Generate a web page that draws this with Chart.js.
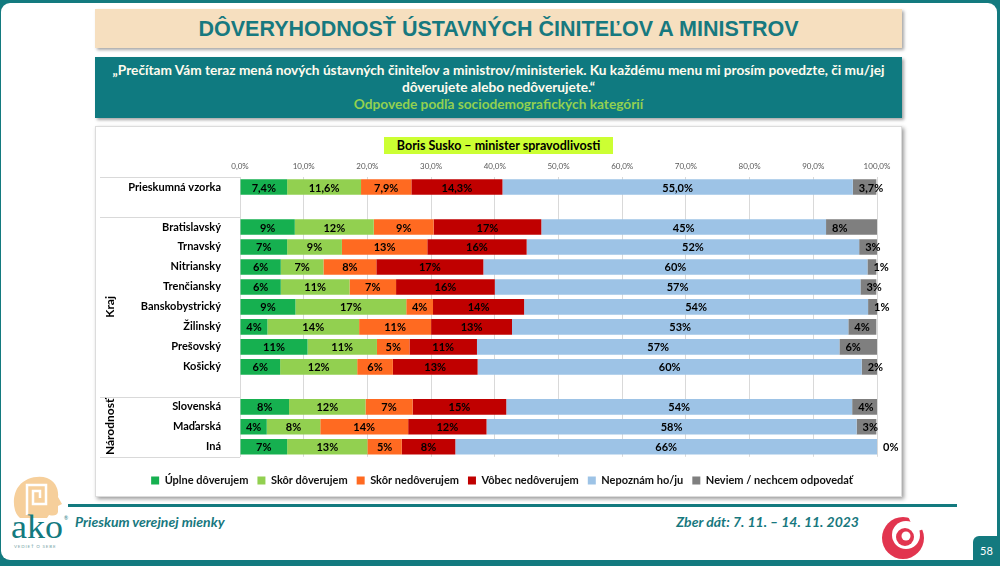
<!DOCTYPE html>
<html lang="sk">
<head>
<meta charset="utf-8">
<script src="https://cdn.jsdelivr.net/npm/chart.js@4.4.0/dist/chart.umd.min.js"></script>
<style>
html, body { margin: 0; padding: 0; }
body { width: 1000px; height: 566px; background: #137a7f; position: relative; overflow: hidden; font-family: Lato, "Open Sans", sans-serif; }
#panel { position: absolute; left: 1px; top: 3px; width: 996px; height: 557px; background: #fff; border-radius: 9px; }
#title { position: absolute; left: 95px; top: 9px; width: 807px; height: 39px; background: #f6dfbf; box-shadow: 2px 2px 3px rgba(0,0,0,.35);
  color: #17797f; font: bold 21.5px "Liberation Sans Narrow", "Liberation Sans", sans-serif; text-align: center; line-height: 40px; }
#sub { position: absolute; left: 95px; top: 57px; width: 807px; height: 61px; background: #0f7a80; box-shadow: 2px 2px 3px rgba(0,0,0,.35);
  color: #fffbee; font: bold 13.7px Lato, sans-serif; text-align: center; line-height: 17px; padding-top: 4px; box-sizing: border-box; }
#sub .green { color: #92d050; }
#box { position: absolute; left: 95px; top: 126px; width: 807px; height: 371px; background: #fff; border: 1px solid #dcdcdc; box-sizing: border-box;
  box-shadow: 2px 2px 4px rgba(0,0,0,.4); }
#chartwrap { position: absolute; left: 95px; top: 126px; width: 807px; height: 371px; }
#ctitle { position: absolute; left: 384px; top: 137px; width: 229px; height: 17px; background: #ccff33; font: bold 12.5px Lato, sans-serif;
  color: #000; text-align: center; line-height: 17px; }
#line { position: absolute; left: 68px; top: 504px; width: 889px; height: 3px; background: #137a7f; }
.foot { position: absolute; top: 513px; font: italic bold 14px Lato, sans-serif; color: #17787e; }
#num { position: absolute; left: 973px; top: 536px; width: 27px; height: 30px; background: #137a7f; border-top-left-radius: 6px;
  color: #fff; font: 11px Lato, sans-serif; text-align: center; line-height: 30px; }
svg { position: absolute; }
</style>
</head>
<body>
<div id="panel"></div>
<div id="title">DÔVERYHODNOSŤ ÚSTAVNÝCH ČINITEĽOV A MINISTROV</div>
<div id="sub">„Prečítam Vám teraz mená nových ústavných činiteľov a ministrov/ministeriek. Ku každému menu mi prosím povedzte, či mu/jej<br>dôverujete alebo nedôverujete.“<br><span class="green">Odpovede podľa sociodemografických kategórií</span></div>
<div id="box"></div>
<div id="chartwrap"><canvas id="graf" width="807" height="371"></canvas></div>
<div id="ctitle">Boris Susko – minister spravodlivosti</div>
<div id="line"></div>
<div class="foot" style="left:75px">Prieskum verejnej mienky</div>
<div class="foot" style="right:141px">Zber dát: 7. 11. – 14. 11. 2023</div>
<div id="num">58</div>

<!-- logo ako -->
<svg style="left:8px;top:474px" width="66" height="80" viewBox="0 0 66 80">
  <path d="M12 44 C4 38 4 20 11 12 C17 4 30 1 39 4 C47 7 51 15 50 23 L54 30 L50 32 L50 38 C49 42 45 42 41 41 L39 44 Z" fill="#f6cf9b"/>
  <path d="M19 41 L19 11 L38 11 L38 30 L25 30 L25 17 L32 17 L32 24" fill="none" stroke="#fff" stroke-width="2.5"/>
  <text x="3" y="64" font-family="Liberation Serif, DejaVu Serif, serif" font-size="34" fill="#137a7f" textLength="52" lengthAdjust="spacingAndGlyphs">ako</text>
  <text x="56" y="46" font-family="Lato" font-size="5" fill="#137a7f">®</text>
  <text x="6" y="74" font-family="Lato" font-size="4.5" letter-spacing="0.8" fill="#7aa6a8">VEDIEŤ O SEBE</text>
</svg>
<!-- logo vpravo -->
<svg style="left:879px;top:514px" width="48" height="48" viewBox="0 0 48 48">
  <circle cx="24" cy="24" r="21" fill="#e2354f"/>
  <circle cx="27" cy="21" r="14" fill="#fff"/>
  <circle cx="26" cy="23" r="9" fill="#e2354f"/>
  <circle cx="27" cy="22" r="4.5" fill="#fff"/>
  <path d="M28 0 L48 0 L48 14 L36 18 Z" fill="#fff"/>
</svg>

<script>
// Dôveryhodnosť – Boris Susko, odpovede podľa kategórií (v %)
const kategorie = ['Prieskumná vzorka', '', 'Bratislavský', 'Trnavský', 'Nitriansky', 'Trenčiansky', 'Banskobystrický',
  'Žilinský', 'Prešovský', 'Košický', '', 'Slovenská', 'Maďarská', 'Iná'];
const uplneDoverujem   = [7.4, null, 8.6, 7.4, 6.4, 6.4, 8.7, 4.3, 10.6, 6.3, null, 7.7, 4.2, 7.4];
const skorDoverujem    = [11.6, null, 12.4, 8.6, 6.7, 10.8, 17.4, 14.4, 10.9, 12.1, null, 12.0, 8.4, 12.6];
const skorNedoverujem  = [7.9, null, 9.4, 13.4, 8.3, 7.3, 4.2, 11.3, 5.1, 5.6, null, 7.4, 13.8, 5.4];
const vobecNedoverujem = [14.3, null, 16.9, 15.6, 16.8, 15.5, 14.3, 12.7, 10.6, 13.3, null, 14.7, 12.3, 8.4];
const nepoznam         = [55.0, null, 44.7, 52.2, 60.3, 57.4, 54.0, 52.8, 56.9, 60.3, null, 54.3, 58.1, 66.2];
const neviem           = [3.7, null, 8.0, 2.8, 1.4, 2.5, 1.4, 4.4, 6.0, 2.4, null, 3.9, 3.1, 0];
const skupiny = [{ nazov: 'Kraj', od: 2, po: 10 }, { nazov: 'Národnosť', od: 11, po: 13 }];

const sivaCiara = '#d9d9d9';

// popisky v segmentoch
const popisky = {
  id: 'popisky',
  afterDatasetsDraw(chart) {
    const ctx = chart.ctx;
    ctx.save();
    ctx.font = 'bold 11px Lato';
    ctx.fillStyle = '#000';
    ctx.textBaseline = 'middle';
    const posledny = chart.data.datasets.length - 1;
    chart.data.datasets.forEach((ds, di) => {
      chart.getDatasetMeta(di).data.forEach((bar, i) => {
        const v = ds.data[i];
        if (v === null) return;
        const txt = i === 0 ? v.toFixed(1).replace('.', ',') + '%' : Math.round(v) + '%';
        if (di === posledny) {
          ctx.textAlign = 'left';
          ctx.fillText(txt, bar.base + 6, bar.y + 1);
        } else {
          ctx.textAlign = 'center';
          ctx.fillText(txt, (bar.x + bar.base) / 2, bar.y + 1);
        }
      });
    });
    ctx.restore();
  }
};

// oddeľovacie čiary a názvy skupín vľavo
const skupinyPlugin = {
  id: 'skupiny',
  afterDraw(chart) {
    const ctx = chart.ctx;
    const y = chart.scales.y;
    const left = 5, right = chart.chartArea.left;
    const hore = (i) => y.getPixelForValue(i) - y.height / kategorie.length / 2;
    const dole = (i) => y.getPixelForValue(i) + y.height / kategorie.length / 2;
    ctx.save();
    ctx.strokeStyle = sivaCiara;
    ctx.lineWidth = 1;
    [hore(0), hore(2), hore(11), dole(13)].forEach(py => {
      ctx.beginPath();
      ctx.moveTo(left, Math.round(py) + 0.5);
      ctx.lineTo(right, Math.round(py) + 0.5);
      ctx.stroke();
    });
    ctx.fillStyle = '#000';
    ctx.font = 'bold 12px Lato';
    ctx.textAlign = 'center';
    ctx.textBaseline = 'middle';
    skupiny.forEach(s => {
      const stred = (hore(s.od) + dole(s.po)) / 2;
      ctx.save();
      ctx.translate(15, stred);
      ctx.rotate(-Math.PI / 2);
      ctx.fillText(s.nazov, 0, 0);
      ctx.restore();
    });
    ctx.restore();
  }
};

const sady = [
  ['Úplne dôverujem', uplneDoverujem, '#16b050'],
  ['Skôr dôverujem', skorDoverujem, '#92d050'],
  ['Skôr nedôverujem', skorNedoverujem, '#ff6a21'],
  ['Vôbec nedôverujem', vobecNedoverujem, '#c00000'],
  ['Nepoznám ho/ju', nepoznam, '#9dc3e6'],
  ['Neviem / nechcem odpovedať', neviem, '#7f7f7f']
];

new Chart(document.getElementById('graf').getContext('2d'), {
  type: 'bar',
  data: {
    labels: kategorie,
    datasets: sady.map(s => ({
      label: s[0],
      data: s[1],
      backgroundColor: s[2],
      borderWidth: 0,
      categoryPercentage: 1,
      barPercentage: 0.78
    }))
  },
  options: {
    indexAxis: 'y',
    responsive: false,
    animation: false,
    layout: { padding: { left: 32, right: 25, top: 0, bottom: 1 } },
    scales: {
      x: {
        stacked: true,
        position: 'top',
        min: 0,
        max: 100,
        ticks: {
          stepSize: 10,
          padding: 6,
          color: '#595959',
          font: { family: 'Lato', size: 8 },
          callback: v => v.toFixed(1).replace('.', ',') + '%'
        },
        grid: { color: sivaCiara, drawTicks: false },
        border: { display: false },
        afterFit: s => { s.height = 51; }
      },
      y: {
        stacked: true,
        ticks: { padding: 11, color: '#000', font: { family: 'Lato', size: 11, weight: 'bold' } },
        grid: { display: false },
        border: { display: true, color: sivaCiara },
        afterFit: s => { s.width = 113; }
      }
    },
    plugins: {
      legend: {
        position: 'bottom',
        title: { display: true, text: ' ', font: { size: 1 }, padding: { top: 4, bottom: 4 } },
        labels: {
          boxWidth: 8,
          boxHeight: 8,
          padding: 9,
          color: '#111',
          font: { family: 'Lato', size: 11, weight: 'bold' }
        }
      },
      tooltip: { enabled: false }
    }
  },
  plugins: [popisky, skupinyPlugin]
});
</script>
</body>
</html>
